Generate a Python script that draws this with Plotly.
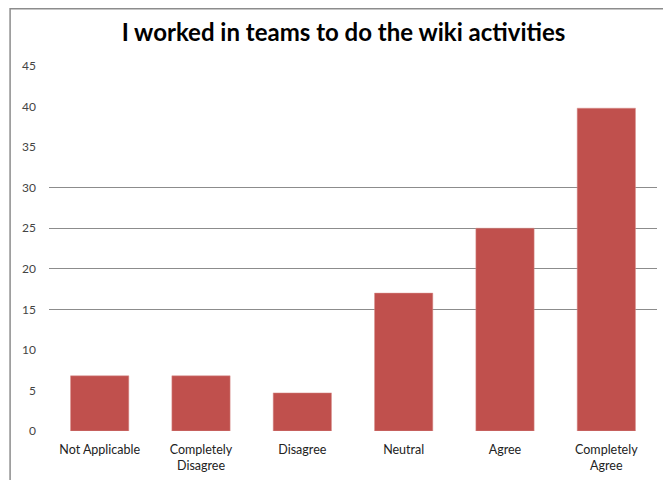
import plotly.graph_objects as go

categories = ["Not Applicable", "Completely<br>Disagree", "Disagree", "Neutral", "Agree", "Completely<br>Agree"]
values = [6.8, 6.8, 4.7, 17, 25, 39.8]
y_ticks = [0, 5, 10, 15, 20, 25, 30, 35, 40, 45]
grid_ticks = [15, 20, 25, 30]

fig = go.Figure()
fig.add_trace(go.Bar(x=categories, y=values, marker=dict(color="#C0504D", line=dict(color="#D9908E", width=0.5)),
                     width=0.575, showlegend=False))
fig.add_trace(go.Scatter(x=categories, y=values, yaxis="y2", mode="markers", marker=dict(opacity=0),
                         showlegend=False, hoverinfo="skip"))

fig.update_layout(
    width=671, height=480,
    margin=dict(l=41, r=22, t=58, b=57),
    paper_bgcolor="white", plot_bgcolor="white",
    title=dict(text="<b>I worked in teams to do the wiki activities</b>", x=0.5, xanchor="center",
               y=0.948, yanchor="middle", font=dict(family="Lato", size=24, color="black")),
    font=dict(family="Lato", size=12, color="#333333"),
    xaxis=dict(showgrid=False, showline=False, ticks="", tickfont=dict(size=12.5, color="#222222"),
               ticklabelstandoff=9),
    yaxis=dict(range=[0, 45], tickvals=y_ticks, showgrid=False, showline=False, zeroline=False,
               ticks="", tickfont=dict(size=12, color="#444444"), ticklabelstandoff=12),
    yaxis2=dict(range=[0, 45], overlaying="y", tickvals=grid_ticks, showgrid=True, gridcolor="#8C8C8C",
                gridwidth=1, showticklabels=False, zeroline=False, showline=False),
    shapes=[dict(type="rect", xref="paper", yref="paper", x0=-0.064, x1=1.034, y0=-0.3, y1=1.157,
                 line=dict(color="#8C8C8C", width=1.5), fillcolor="rgba(0,0,0,0)", layer="below")],
)

fig.write_html("out.html")
